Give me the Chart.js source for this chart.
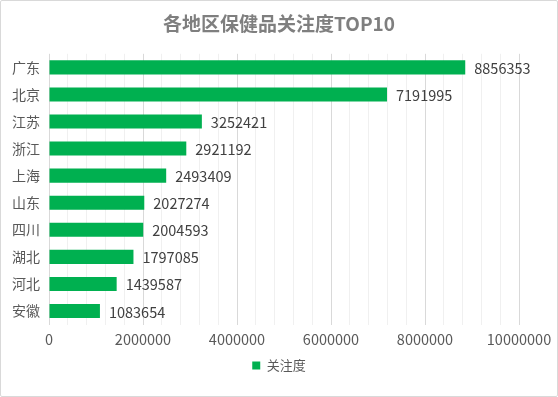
<!DOCTYPE html>
<html>
<head>
<meta charset="utf-8">
<script src="https://cdn.jsdelivr.net/npm/chart.js@4"></script>
<style>
  body { margin: 0; background: #fff; }
  #wrap { width: 556px; height: 395px; border: 1px solid #d9d9d9; border-radius: 2px; position: relative; }
  canvas { display: block; }
</style>
</head>
<body>
<div id="wrap"><canvas id="grafico" width="556" height="395"></canvas></div>
<script>
// dados do gráfico
var regioes = ['广东', '北京', '江苏', '浙江', '上海', '山东', '四川', '湖北', '河北', '安徽'];
var atencao = [8856353, 7191995, 3252421, 2921192, 2493409, 2027274, 2004593, 1797085, 1439587, 1083654];
var nomeSerie = '关注度';
var titulo = '各地区保健品关注度TOP10';
var eixoMax = 10000000;
var passoMaior = 2000000;
var passoMenor = 400000;

var fonte = '"Noto Sans CJK SC", "Microsoft YaHei", sans-serif';
var verde = '#00b050';

// rótulos de valor ao lado de cada barra
var rotulosValor = {
    id: 'rotulosValor',
    afterDatasetsDraw: function (chart) {
        var ctx = chart.ctx;
        var meta = chart.getDatasetMeta(0);
        ctx.save();
        ctx.font = '14.5px ' + fonte;
        ctx.fillStyle = '#404040';
        ctx.textAlign = 'left';
        ctx.textBaseline = 'middle';
        meta.data.forEach(function (barra, i) {
            ctx.fillText(String(atencao[i]), barra.x + 9, barra.y + 1);
        });
        ctx.restore();
    }
};

var ctx = document.getElementById('grafico').getContext('2d');
var grafico = new Chart(ctx, {
    type: 'bar',
    data: {
        labels: regioes,
        datasets: [{
            label: nomeSerie,
            data: atencao,
            backgroundColor: verde,
            borderWidth: 0,
            barPercentage: 0.52,
            categoryPercentage: 1
        }]
    },
    options: {
        indexAxis: 'y',
        responsive: false,
        animation: false,
        layout: { padding: { left: 0, right: 0, top: 0, bottom: 14 } },
        plugins: {
            title: {
                display: true,
                text: titulo,
                color: '#7f7f7f',
                font: { family: fonte, size: 19, weight: 'bold' },
                padding: { top: 11, bottom: 19 }
            },
            legend: {
                position: 'bottom',
                labels: {
                    boxWidth: 8,
                    boxHeight: 8,
                    padding: 5,
                    color: '#595959',
                    font: { family: fonte, size: 13 }
                }
            },
            tooltip: { enabled: false }
        },
        scales: {
            x: {
                min: 0,
                max: eixoMax,
                afterFit: function (eixo) { eixo.paddingRight = 38; },
                ticks: {
                    stepSize: passoMenor,
                    autoSkip: false,
                    maxRotation: 0,
                    color: '#595959',
                    font: { family: fonte, size: 14.5 },
                    padding: 6,
                    callback: function (v) {
                        return v % passoMaior === 0 ? String(v) : '';
                    }
                },
                grid: {
                    drawTicks: false,
                    color: function (c) {
                        return c.tick && c.tick.value % passoMaior === 0 ? '#d9d9d9' : '#f0f0f0';
                    }
                },
                border: { display: false }
            },
            y: {
                afterFit: function (eixo) { eixo.width = 48; },
                grid: { display: false },
                border: { display: false },
                ticks: {
                    color: '#595959',
                    font: { family: fonte, size: 14 },
                    padding: 1
                }
            }
        }
    },
    plugins: [rotulosValor]
});
</script>
</body>
</html>
